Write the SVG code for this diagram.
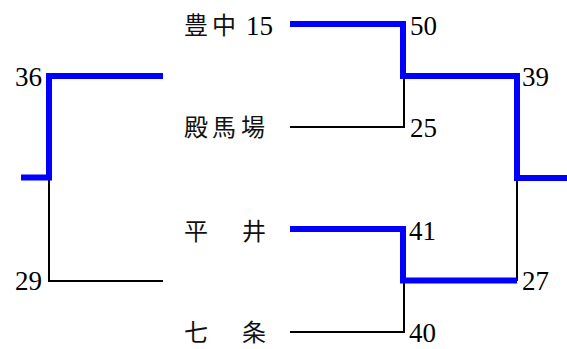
<svg xmlns="http://www.w3.org/2000/svg" width="567" height="349" viewBox="0 0 567 349">
<style>
.lose{fill:none;stroke:#000;stroke-width:2}
.win{fill:none;stroke:#0000ff;stroke-width:6;stroke-linejoin:miter}
.cjk{font-family:"Noto Sans CJK JP",sans-serif;font-size:24px;fill:#111}
.num{font-family:"Liberation Serif","Times New Roman",serif;font-size:27px;fill:#000}
</style>
<rect width="567" height="349" fill="#fff"/>
<g id="connectors">
<polyline class="lose" points="290,127 404,127 404,76"/>
<polyline class="lose" points="290,332 404,332 404,280"/>
<polyline class="lose" points="517,178 517,281"/>
<polyline class="lose" points="49,178 49,281 163,281"/>
<polyline class="win" points="290,24 403,24 403,76 517,76 517,178 567,178"/>
<polyline class="win" points="290,229 403,229 403,280.5 517,280.5"/>
<polyline class="win" points="163,76 49,76 49,177.5 21,177.5"/>
</g>
<g id="team-toyonaka"><text class="cjk" x="184 212" y="34">豊中</text><text class="num" x="246" y="35">15</text></g>
<g id="team-tenmaba"><text class="cjk" x="184 212 241" y="136">殿馬場</text></g>
<g id="team-hirai"><text class="cjk" x="184 242" y="240">平井</text></g>
<g id="team-shichijo"><text class="cjk" x="184 242" y="341">七条</text></g>
<g id="scores">
<text class="num" x="410" y="35">50</text>
<text class="num" x="410" y="137">25</text>
<text class="num" x="409" y="240">41</text>
<text class="num" x="409" y="342">40</text>
<text class="num" x="522" y="86">39</text>
<text class="num" x="522" y="290">27</text>
<text class="num" x="42" y="86" text-anchor="end">36</text>
<text class="num" x="42" y="290" text-anchor="end">29</text>
</g>
</svg>
